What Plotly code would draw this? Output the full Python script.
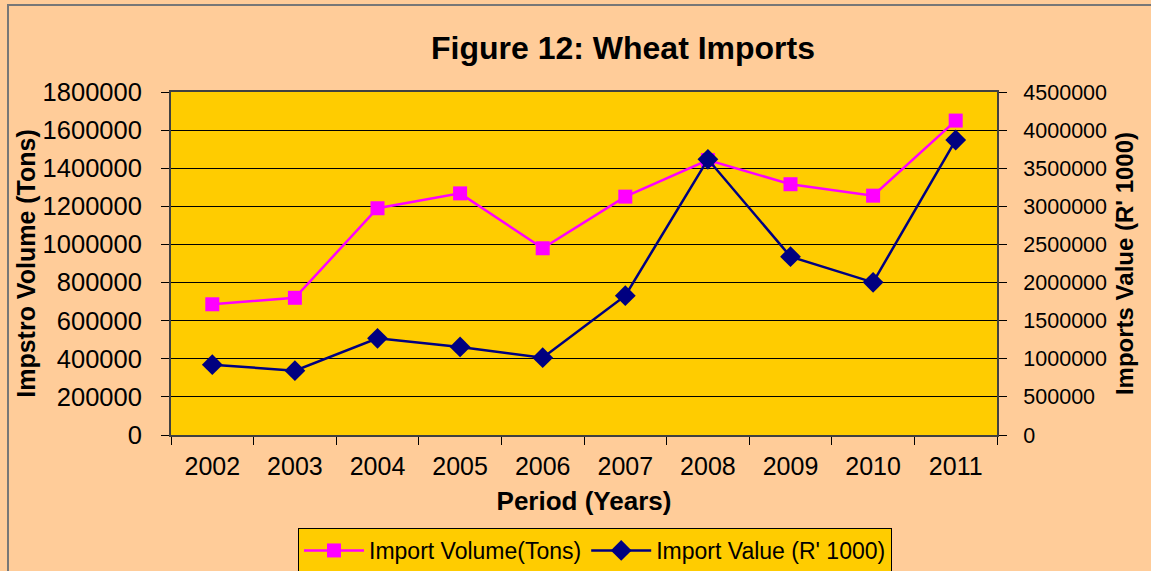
import plotly.graph_objects as go

years = ["2002", "2003", "2004", "2005", "2006", "2007", "2008", "2009", "2010", "2011"]
import_volume_tons = [686000, 720000, 1190000, 1268000, 980000, 1251000, 1443000, 1316000, 1256000, 1650000]
import_value_r1000 = [922000, 844000, 1268000, 1155000, 1015000, 1828000, 3617000, 2340000, 2003000, 3870000]

left_ticks = [0, 200000, 400000, 600000, 800000, 1000000, 1200000, 1400000, 1600000, 1800000]
right_ticks = [0, 500000, 1000000, 1500000, 2000000, 2500000, 3000000, 3500000, 4000000, 4500000]

fig = go.Figure()
fig.add_trace(go.Scatter(
    x=years, y=import_volume_tons, name="Import Volume(Tons)",
    mode="lines+markers",
    line=dict(color="#FF00FF", width=2.5),
    marker=dict(symbol="square", size=14, color="#FF00FF"),
    yaxis="y",
))
fig.add_trace(go.Scatter(
    x=years, y=import_value_r1000, name="Import Value (R' 1000)",
    mode="lines+markers",
    line=dict(color="#000080", width=2.5),
    marker=dict(symbol="diamond", size=16, color="#000080"),
    yaxis="y2",
))

axis_font = dict(family="Arial, Liberation Sans, sans-serif", color="black")

fig.update_layout(
    width=1151, height=571,
    margin=dict(l=171, r=154, t=92, b=136),
    paper_bgcolor="#FFCC99",
    plot_bgcolor="#FFCC00",
    font=dict(family="Arial, Liberation Sans, sans-serif", color="black"),
    title=dict(
        text="<b>Figure 12: Wheat Imports</b>",
        font=dict(size=32, color="black"),
        x=623 / 1151, xanchor="center", xref="container",
        y=1 - 48 / 571, yanchor="middle", yref="container",
    ),
    xaxis=dict(
        type="category",
        tickson="boundaries",
        ticks="outside", ticklen=8, tickcolor="black", tickwidth=1,
        tickfont=dict(size=25, **axis_font),
        ticklabelstandoff=8,
        showline=True, linecolor="#404040", linewidth=2, mirror=True,
        showgrid=False,
        title=dict(text="<b>Period (Years)</b>", font=dict(size=26, **axis_font), standoff=13),
        range=[-0.5, 9.5],
    ),
    yaxis=dict(
        range=[0, 1800000],
        tickvals=left_ticks,
        ticktext=[str(v) for v in left_ticks],
        ticks="outside", ticklen=8, tickcolor="black", tickwidth=1,
        tickfont=dict(size=25.5, **axis_font),
        ticklabelstandoff=14,
        showline=True, linecolor="#404040", linewidth=2,
        showgrid=True, gridcolor="black", gridwidth=1,
        zeroline=False,
        title=dict(text="<b>Impstro Volume (Tons)</b>", font=dict(size=25, **axis_font), standoff=0),
    ),
    yaxis2=dict(
        overlaying="y", side="right",
        range=[0, 4500000],
        tickvals=right_ticks,
        ticktext=[str(v) for v in right_ticks],
        ticks="outside", ticklen=8, tickcolor="black", tickwidth=1,
        tickfont=dict(size=21.5, **axis_font),
        ticklabelstandoff=12,
        showline=True, linecolor="#404040", linewidth=2,
        showgrid=False, zeroline=False,
        title=dict(text="<b>Imports Value (R' 1000)</b>", font=dict(size=24, **axis_font), standoff=10),
    ),
    legend=dict(
        orientation="h",
        xref="container", yref="container",
        x=595 / 1151, xanchor="center",
        y=1 - 528 / 571, yanchor="top",
        bgcolor="#FFCC00", bordercolor="black", borderwidth=1,
        font=dict(size=23, **axis_font),
        itemwidth=60,
        tracegroupgap=0,
    ),
    showlegend=True,
)

# outer chart border (gray), partly outside the visible window like the reference
fig.add_shape(
    type="rect", xref="paper", yref="paper",
    x0=(8 - 171) / 826, x1=(1170 - 171) / 826,
    y0=(435 - 590) / 343, y1=(435 - 5) / 343,
    line=dict(color="#777777", width=2), fillcolor="rgba(0,0,0,0)", layer="below",
)

fig.write_html(
    "out.html",
    config={"displayModeBar": False},
    post_script="document.body.style.margin='0';document.body.style.overflow='hidden';",
)
